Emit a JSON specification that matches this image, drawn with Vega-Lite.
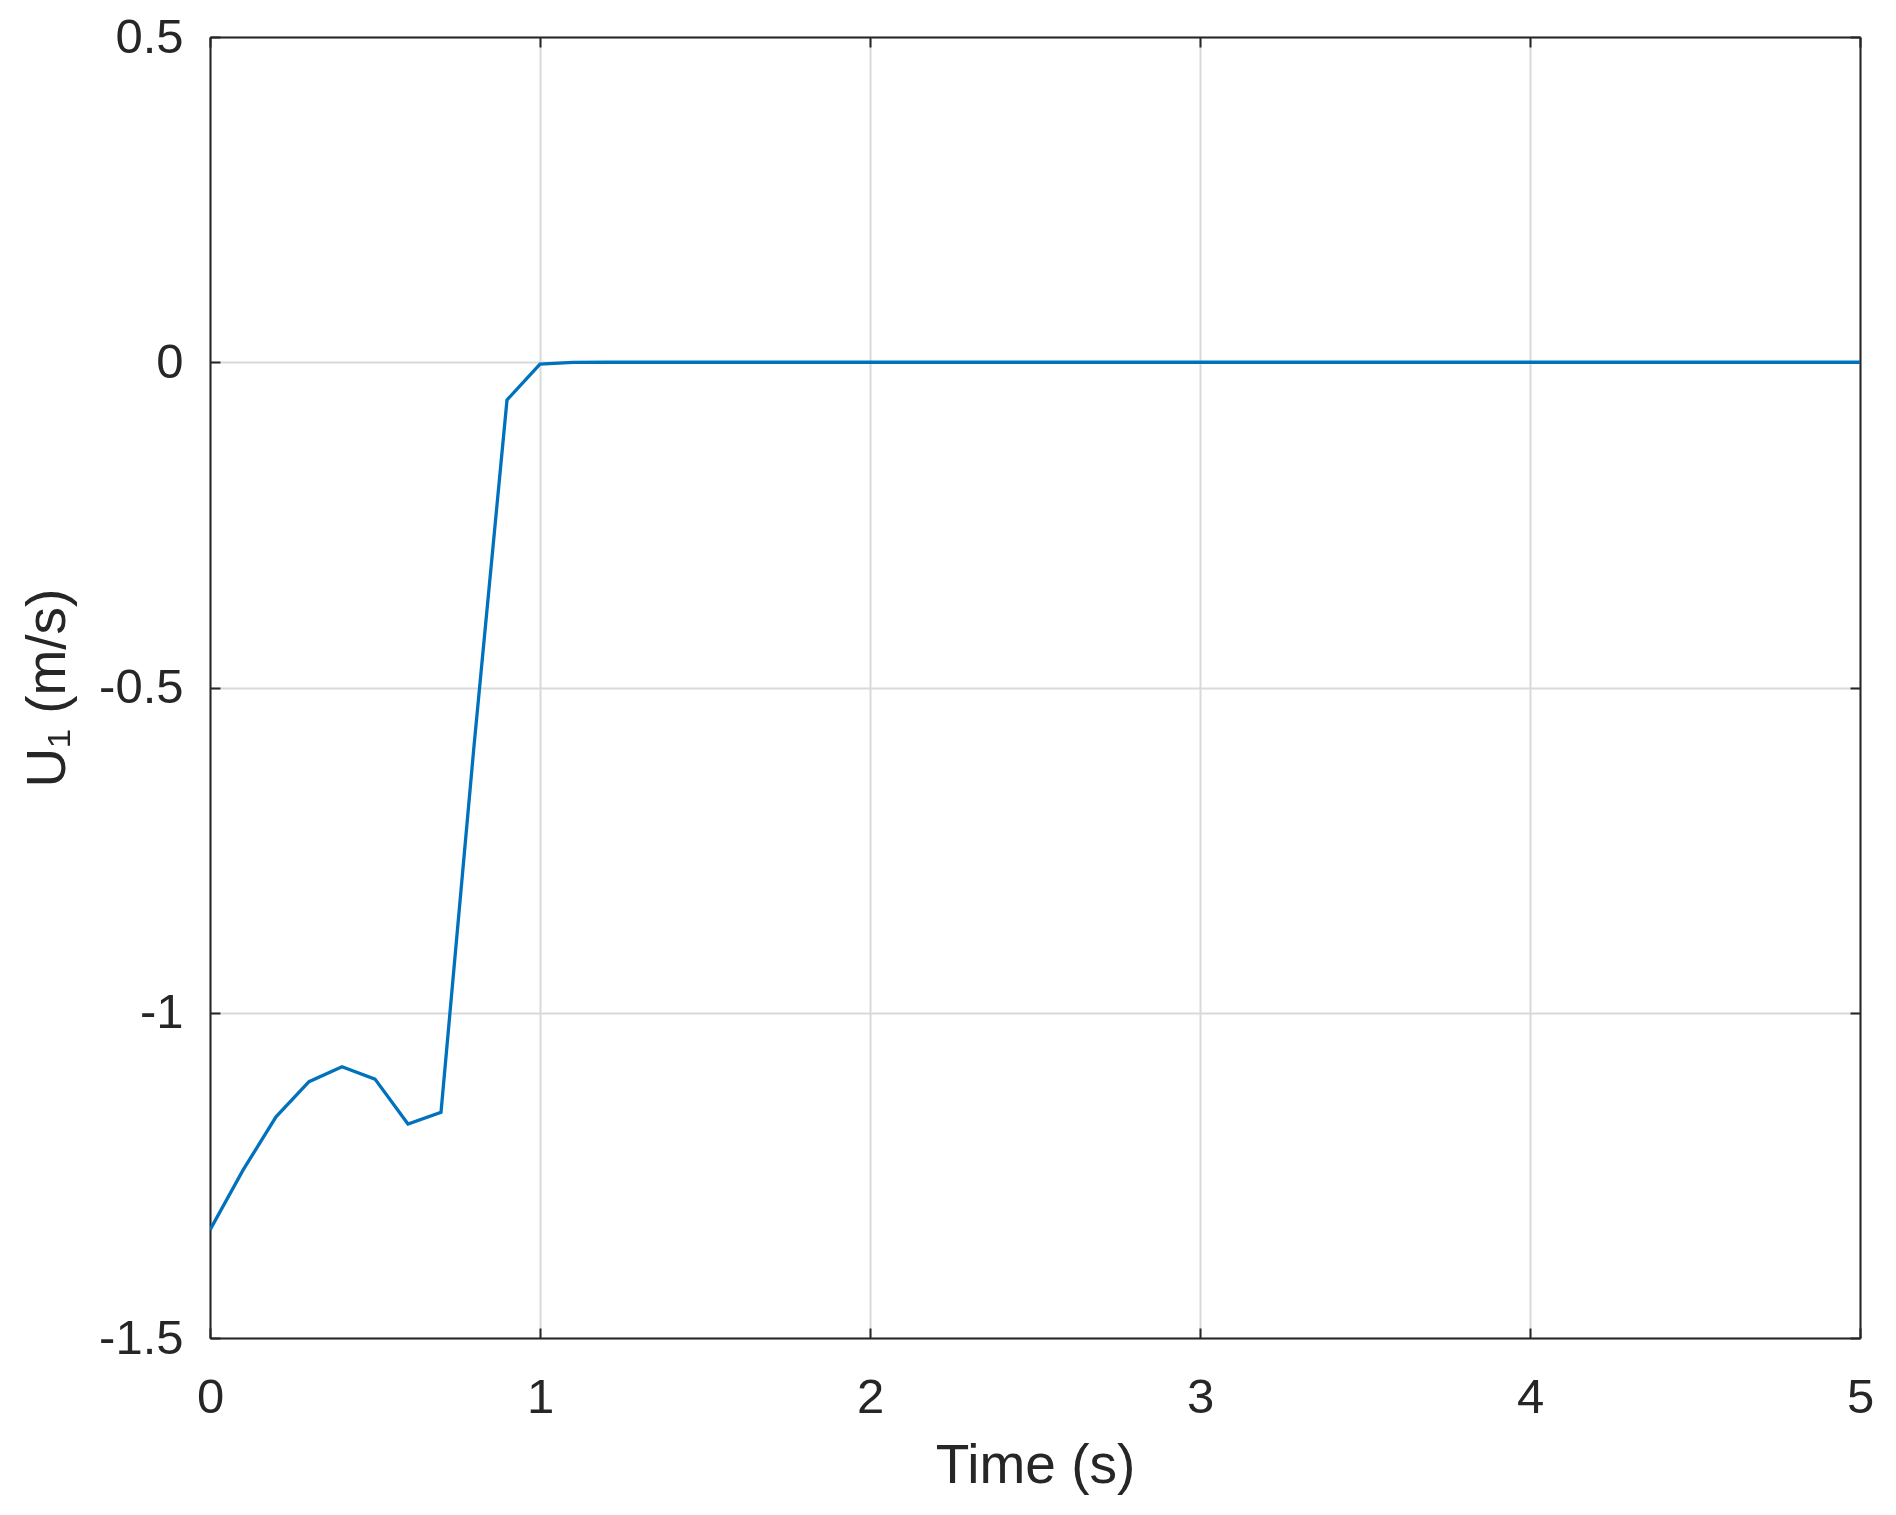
{
  "$schema": "https://vega.github.io/schema/vega-lite/v6.json",
  "width": 1650,
  "height": 1301,
  "autosize": {"type": "none"},
  "padding": {"left": 210, "top": 37, "right": 36, "bottom": 177},
  "background": "white",
  "config": {
    "font": "Liberation Sans",
    "view": {"stroke": null},
    "axis": {
      "labelFont": "Liberation Sans",
      "titleFont": "Liberation Sans",
      "labelColor": "#262626",
      "titleColor": "#262626",
      "domainColor": "#262626",
      "tickColor": "#262626",
      "domainWidth": 2,
      "tickWidth": 2,
      "gridColor": "#d9d9d9",
      "gridWidth": 2,
      "titleFontWeight": "normal"
    }
  },
  "data": {
    "values": [
      {"t": 0.0, "u": -1.334},
      {"t": 0.1, "u": -1.242},
      {"t": 0.2, "u": -1.160},
      {"t": 0.3, "u": -1.106},
      {"t": 0.4, "u": -1.083},
      {"t": 0.5, "u": -1.102},
      {"t": 0.6, "u": -1.171},
      {"t": 0.7, "u": -1.153},
      {"t": 0.8, "u": -0.59},
      {"t": 0.9, "u": -0.058},
      {"t": 1.0, "u": -0.003},
      {"t": 1.1, "u": -0.0002},
      {"t": 1.2, "u": 0},
      {"t": 1.3, "u": 0},
      {"t": 1.4, "u": 0},
      {"t": 1.5, "u": 0},
      {"t": 1.6, "u": 0},
      {"t": 1.7, "u": 0},
      {"t": 1.8, "u": 0},
      {"t": 1.9, "u": 0},
      {"t": 2.0, "u": 0},
      {"t": 2.1, "u": 0},
      {"t": 2.2, "u": 0},
      {"t": 2.3, "u": 0},
      {"t": 2.4, "u": 0},
      {"t": 2.5, "u": 0},
      {"t": 2.6, "u": 0},
      {"t": 2.7, "u": 0},
      {"t": 2.8, "u": 0},
      {"t": 2.9, "u": 0},
      {"t": 3.0, "u": 0},
      {"t": 3.1, "u": 0},
      {"t": 3.2, "u": 0},
      {"t": 3.3, "u": 0},
      {"t": 3.4, "u": 0},
      {"t": 3.5, "u": 0},
      {"t": 3.6, "u": 0},
      {"t": 3.7, "u": 0},
      {"t": 3.8, "u": 0},
      {"t": 3.9, "u": 0},
      {"t": 4.0, "u": 0},
      {"t": 4.1, "u": 0},
      {"t": 4.2, "u": 0},
      {"t": 4.3, "u": 0},
      {"t": 4.4, "u": 0},
      {"t": 4.5, "u": 0},
      {"t": 4.6, "u": 0},
      {"t": 4.7, "u": 0},
      {"t": 4.8, "u": 0},
      {"t": 4.9, "u": 0},
      {"t": 5.0, "u": 0}
    ]
  },
  "layer": [
    {
      "mark": {"type": "line", "color": "#0072BD", "strokeWidth": 3.3, "clip": true},
      "encoding": {
        "x": {
          "field": "t", "type": "quantitative",
          "scale": {"domain": [0, 5], "nice": false, "zero": false},
          "axis": {
            "orient": "bottom",
            "title": "Time (s)",
            "values": [0, 1, 2, 3, 4, 5],
            "format": "d",
            "tickSize": -10,
            "labelPadding": 45,
            "labelFontSize": 49,
            "labelFlush": false,
            "titleFontSize": 55,
            "titlePadding": 17,
            "grid": true
          }
        },
        "y": {
          "field": "u", "type": "quantitative",
          "scale": {"domain": [-1.5, 0.5], "nice": false, "zero": false},
          "axis": {
            "orient": "left",
            "title": "U₁ (m/s)",
            "values": [-1.5, -1, -0.5, 0, 0.5],
            "labelExpr": "toString(datum.value)",
            "tickSize": -10,
            "labelPadding": 37,
            "labelFontSize": 49,
            "labelFlush": false,
            "titleFontSize": 55,
            "titlePadding": 22,
            "grid": true
          }
        }
      }
    },
    {
      "mark": {"type": "line", "opacity": 0},
      "encoding": {
        "x": {
          "field": "t", "type": "quantitative",
          "scale": {"domain": [0, 5], "nice": false, "zero": false},
          "axis": {"orient": "top", "title": null, "labels": false, "grid": false, "values": [0, 1, 2, 3, 4, 5], "tickSize": -10}
        },
        "y": {
          "field": "u", "type": "quantitative",
          "scale": {"domain": [-1.5, 0.5], "nice": false, "zero": false},
          "axis": {"orient": "right", "title": null, "labels": false, "grid": false, "values": [-1.5, -1, -0.5, 0, 0.5], "tickSize": -10}
        }
      }
    }
  ],
  "resolve": {"axis": {"x": "independent", "y": "independent"}}
}
